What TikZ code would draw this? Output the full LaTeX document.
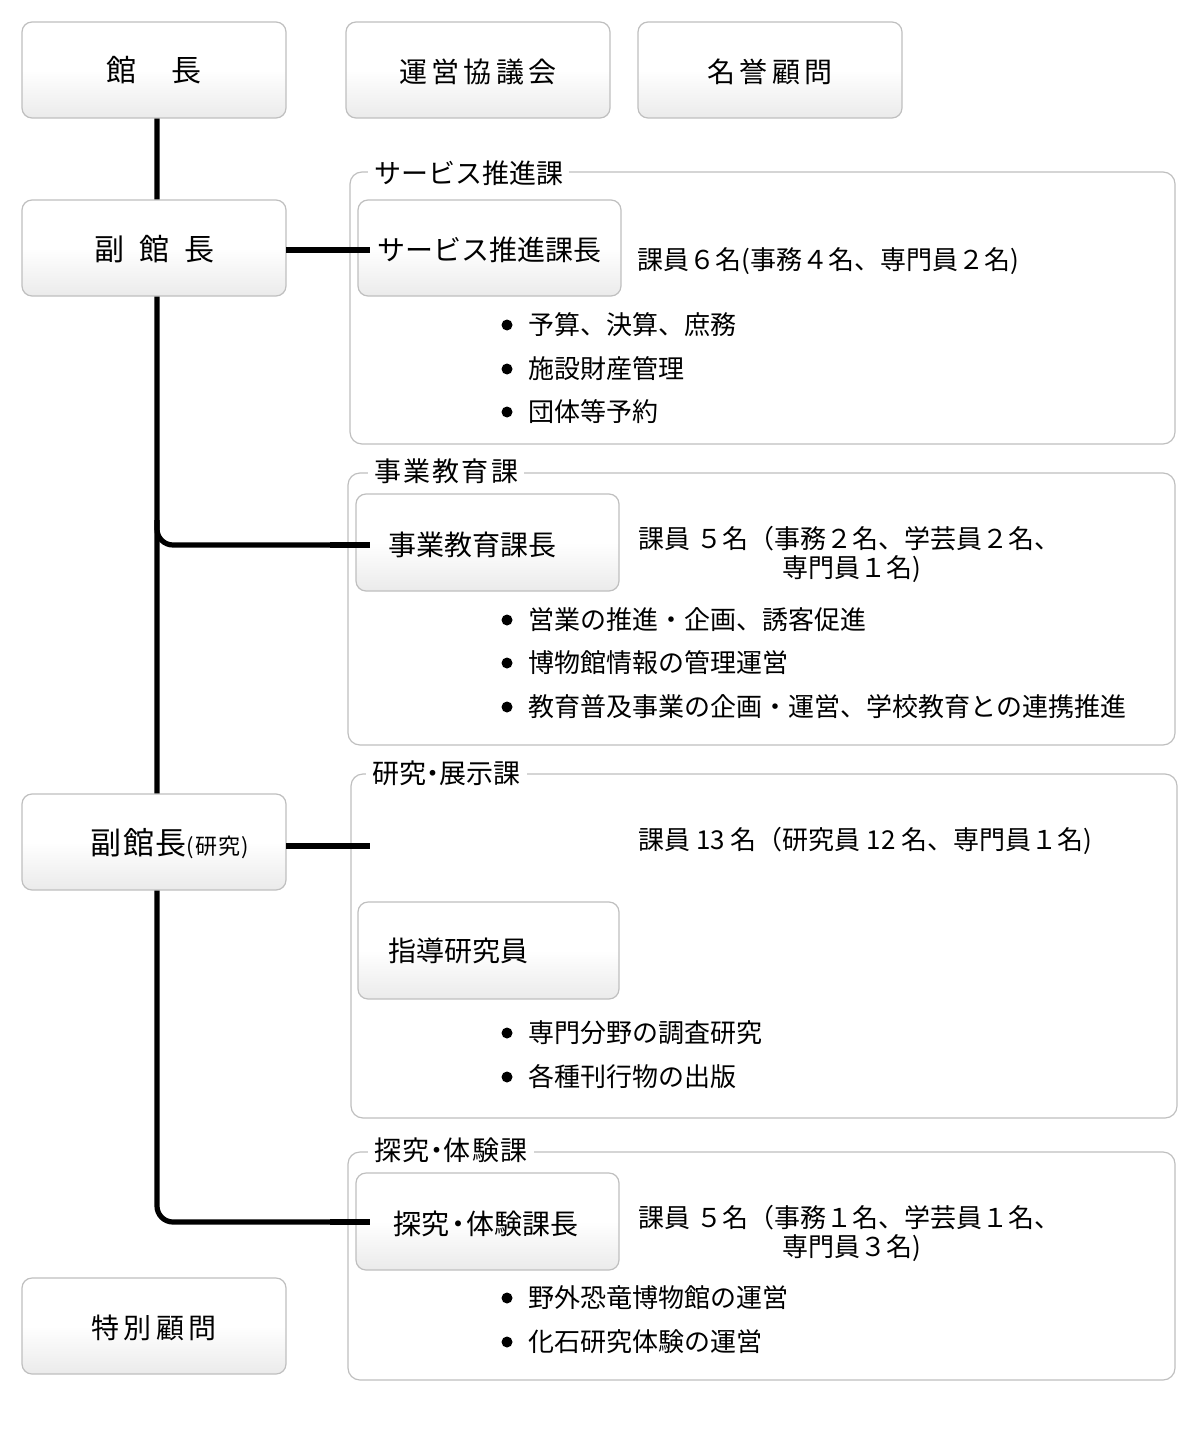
\documentclass[tikz,border=0pt]{standalone}
\usepackage{fontspec}
\setmainfont{Noto Sans CJK JP}
\newcommand{\ls}[1]{\addfontfeature{LetterSpace=#1}}
\begin{document}
\begin{tikzpicture}[x=0.5pt,y=-0.5pt,
 bx/.style={draw=black!25,line width=0.6pt,rounded corners=5pt,top color=white,bottom color=black!8,middle color=white},
 grp/.style={draw=black!25,line width=0.6pt,rounded corners=6pt},
 ln/.style={line width=2.6pt},
 t/.style={font=\fontsize{14}{16}\selectfont,inner sep=0pt},
 lb/.style={font=\fontsize{13.5}{15}\selectfont,inner sep=3pt,fill=white,anchor=west},
 it/.style={font=\fontsize{13}{15}\selectfont,inner sep=0pt,anchor=west}]
\useasboundingbox (0,0) rectangle (1200,1439);
% groups
\draw[grp] (350,172) rectangle (1175,444);
\draw[grp] (348,473) rectangle (1175,745);
\draw[grp] (351,774) rectangle (1177,1118);
\draw[grp] (348,1152) rectangle (1175,1380);
\node[lb] (g1) at (368,173) {サービス推進課\hspace{0.5em}};
\node[lb] (g2) at (368,471) {\ls{8}事業教育課\hspace{0.5em}};
\node[lb] (g3) at (366,773) {研究\kern-0.25em・\kern-0.25em展示課\hspace{0.5em}};
\node[lb] (g4) at (368,1150) {\ls{6}探究\kern-0.25em・\kern-0.25em体験課\hspace{0.5em}};
% coordinates and trunk (under the boxes)
\coordinate (top) at (157,118);
\coordinate (j1) at (370,250);
\coordinate (j2) at (370,545);
\coordinate (j3) at (370,846);
\coordinate (j4) at (370,1222);
\draw[ln,rounded corners=8pt] (top) -- (157,1222) -- (j4);
\draw[ln,rounded corners=8pt] (157,520) -- (157,545) -- (j2);
% boxes
\draw[bx] (22,22) rectangle (286,118); \node[t] (a) at (154,70) {\fontsize{15}{17}\selectfont 館\hspace{1.2em}長};
\draw[bx] (346,22) rectangle (610,118); \node[t] (b) at (478,72) {\ls{15}運営協議会};
\draw[bx] (638,22) rectangle (902,118); \node[t] (c) at (770,72) {\ls{15}名誉顧問};
\draw[bx] (22,200) rectangle (286,296); \node[t] (d) at (154,249) {\fontsize{15}{17}\selectfont 副\hspace{0.5em}館\hspace{0.5em}長};
\draw[bx] (22,794) rectangle (286,890); \node[t] (e) at (170,844) {\fontsize{15.5}{17}\selectfont\ls{5}副館長\fontsize{11}{12}\selectfont (研究)};
\draw[bx] (22,1278) rectangle (286,1374); \node[t] (f) at (154,1328) {\ls{15}特別顧問};
\draw[bx] (358,200) rectangle (621,296); \node[t] (h1) at (490,250) {\kern-0.05em サービス推進課長};
\draw[bx] (356,494) rectangle (619,591); \node[t] (h2) at (472,545) {事業教育課長};
\draw[bx] (358,902) rectangle (619,999); \node[t] (h3) at (458,951) {指導研究員};
\draw[bx] (356,1173) rectangle (619,1270); \node[t] (h4) at (486,1224) {探究\kern-0.2em・\kern-0.2em体験課長};
% branch ends over the boxes
\draw[ln] (286,250) -- (j1);
\draw[ln] (286,846) -- (j3);
\draw[ln] (330,545) -- (j2);
\draw[ln] (330,1222) -- (j4);
% staff texts
\node[it] (s1) at (637,261) {課員６名(事務４名、専門員２名)};
\node[it] (s2) at (638,539) {課員 ５名（事務２名、学芸員２名、};
\node[it] (s2b) at (782,569) {専門員１名)};
\node[it] (s3) at (638,841) {課員 13 名（研究員 12 名、専門員１名)};
\node[it] (s4) at (638,1218) {課員 ５名（事務１名、学芸員１名、};
\node[it] (s4b) at (782,1248) {専門員３名)};
% lists
\foreach \y/\s in {325/予算、決算、庶務,369/施設財産管理,412/団体等予約,
 620/営業の推進・企画、誘客促進,663/博物館情報の管理運営,707/教育普及事業の企画・運営、学校教育との連携推進,
 1033/専門分野の調査研究,1077/各種刊行物の出版,1298/野外恐竜博物館の運営,1342/化石研究体験の運営}{
 \fill (507,\y) circle (5.5);
 \node[it] at (528,\y) {\s};
}
\end{tikzpicture}
\end{document}
